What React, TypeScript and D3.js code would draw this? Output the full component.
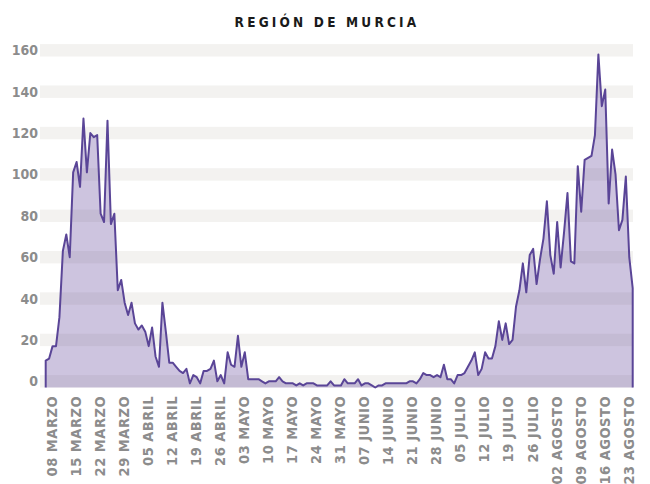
import React, { useEffect, useRef } from "react"
import * as d3 from "d3"

// daily new cases, Región de Murcia, starting 08 March
const START_DATE = "2020-03-08"
const dailyCases = [
  13, 14, 20, 20, 34, 66, 74, 63, 104, 109, 97, 130, 104, 123, 121, 122, 84, 80, 129, 79,
  84, 47, 52, 41, 35, 41, 31, 28, 30, 27, 20, 29, 15, 10, 41, 27, 12, 12, 10, 8,
  7, 9, 2, 6, 5, 2, 8, 8, 9, 13, 3, 6, 2, 17, 11, 10, 25, 10, 17, 4,
  4, 4, 4, 3, 2, 3, 3, 3, 5, 3, 2, 2, 2, 1, 2, 1, 2, 2, 2, 1,
  1, 1, 1, 3, 1, 1, 1, 4, 2, 2, 2, 4, 1, 2, 2, 1, 0, 1, 1, 2,
  2, 2, 2, 2, 2, 2, 3, 3, 2, 4, 7, 6, 6, 5, 6, 5, 11, 4, 4, 2,
  6, 6, 7, 10, 13, 17, 6, 9, 17, 14, 14, 20, 32, 23, 31, 21, 23, 39, 47, 60,
  46, 64, 67, 50, 62, 72, 90, 64, 55, 80, 58, 75, 94, 61, 60, 107, 85, 110, 111, 112,
  122, 161, 136, 144, 89, 115, 103, 76, 81, 102, 63, 48,
]

const yTicks = [0, 20, 40, 60, 80, 100, 120, 140, 160]
const xTickLabels = [
  "08 MARZO", "15 MARZO", "22 MARZO", "29 MARZO", "05 ABRIL", "12 ABRIL", "19 ABRIL",
  "26 ABRIL", "03 MAYO", "10 MAYO", "17 MAYO", "24 MAYO", "31 MAYO", "07 JUNIO",
  "14 JUNIO", "21 JUNIO", "28 JUNIO", "05 JULIO", "12 JULIO", "19 JULIO", "26 JULIO",
  "02 AGOSTO", "09 AGOSTO", "16 AGOSTO", "23 AGOSTO",
]
const TITLE = "REGIÓN DE MURCIA"

const width = 650
const height = 484

const App = () => {
  const ref = useRef<SVGSVGElement>(null)

  useEffect(() => {
    const svg = d3.select(ref.current)
    svg.selectAll("*").remove()

    const start = d3.timeParse("%Y-%m-%d")(START_DATE) as Date
    const data = dailyCases.map((v, i) => ({ date: d3.timeDay.offset(start, i), v }))
    const end = data[data.length - 1].date

    const x = d3.scaleTime().domain([start, end]).range([45.7, 632.7])
    const y = d3.scaleLinear().domain([0, 160]).range([387.5, 56.5])
    const bandH = y(0) - y(6)

    const font = "'Liberation Sans Narrow', 'DejaVu Sans Condensed', sans-serif"

    // grey bands at each tick
    svg.append("g")
      .selectAll("rect")
      .data(yTicks)
      .enter()
      .append("rect")
      .attr("x", 40)
      .attr("width", 593)
      .attr("y", d => y(d) - bandH)
      .attr("height", bandH)
      .attr("fill", "#f3f2f0")

    svg.append("g")
      .selectAll("text")
      .data(yTicks)
      .enter()
      .append("text")
      .attr("x", 38)
      .attr("y", d => y(d) - bandH / 2)
      .attr("dy", "0.36em")
      .attr("text-anchor", "end")
      .attr("font-family", font)
      .attr("font-weight", "bold")
      .attr("font-size", 14)
      .attr("fill", "#8c8c8c")
      .text(d => d)

    const area = d3.area<{ date: Date; v: number }>()
      .x(d => x(d.date))
      .y0(y(0))
      .y1(d => y(d.v))

    svg.append("path")
      .datum(data)
      .attr("d", area)
      .attr("fill", "rgba(88, 60, 150, 0.3)")

    const outline = [{ date: start, v: 0 }, ...data, { date: end, v: 0 }]
    const line = d3.line<{ date: Date; v: number }>()
      .x(d => x(d.date))
      .y(d => y(d.v))

    svg.append("path")
      .datum(outline)
      .attr("d", line)
      .attr("fill", "none")
      .attr("stroke", "#5a4597")
      .attr("stroke-width", 2)
      .attr("stroke-linejoin", "round")

    svg.append("g")
      .selectAll("text")
      .data(xTickLabels)
      .enter()
      .append("text")
      .attr("transform", (d, i) => `translate(${x(d3.timeDay.offset(start, i * 7)) + 6},396) rotate(-90)`)
      .attr("dy", "0.36em")
      .attr("text-anchor", "end")
      .attr("font-family", "'DejaVu Sans Condensed', sans-serif")
      .attr("font-weight", "bold")
      .attr("font-size", 14.5)
      .attr("letter-spacing", 0.5)
      .attr("fill", "#8c8c8c")
      .text(d => d)

    svg.append("text")
      .attr("x", 327)
      .attr("y", 27)
      .attr("text-anchor", "middle")
      .attr("font-family", "'DejaVu Sans Condensed', sans-serif")
      .attr("font-weight", "bold")
      .attr("font-size", 13.5)
      .attr("letter-spacing", 3.2)
      .attr("fill", "#1a1a1a")
      .text(TITLE)
  }, [])

  return (
    <svg
      ref={ref}
      width={width}
      height={height}
      style={{ position: "absolute", left: 0, top: 0, background: "#fff" }}
    />
  )
}

export default App
